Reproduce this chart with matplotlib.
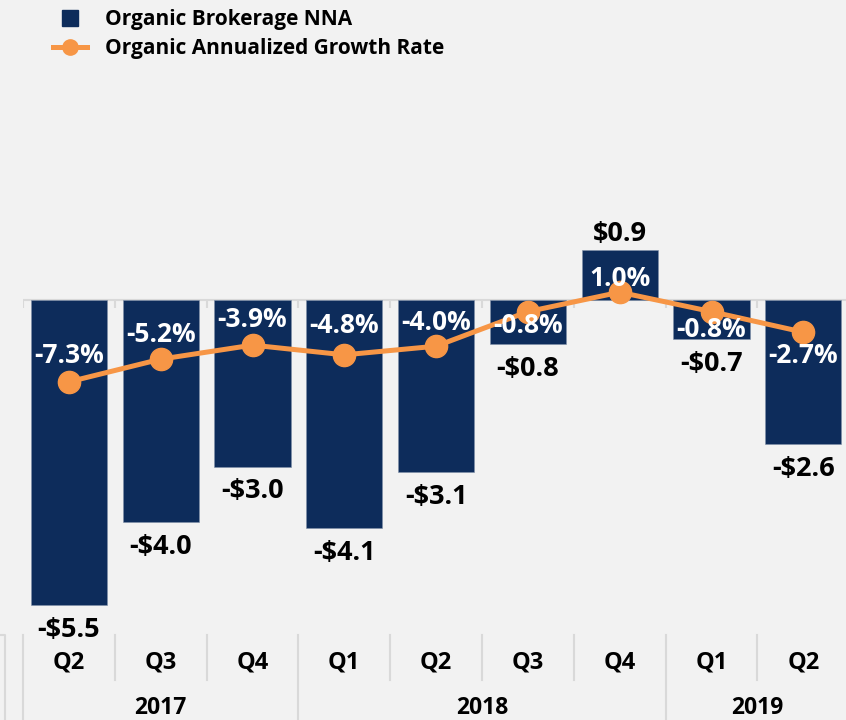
"""
Organic Brokerage NNA (bars) and organic annualized growth rate (line) by quarter.
"""

import matplotlib.pyplot as plt
from matplotlib.lines import Line2D
from matplotlib.transforms import offset_copy

# ----------------- Data -----------------
quarters = ['Q2', 'Q3', 'Q4', 'Q1', 'Q2', 'Q3', 'Q4', 'Q1', 'Q2']
years = ['2017', '2018', '2019']
year_sizes = [3, 4, 2]  # number of quarters shown per year
nna = [-5.5, -4.0, -3.0, -4.1, -3.1, -0.8, 0.9, -0.7, -2.6]          # $B
growth = [-7.3, -5.2, -3.9, -4.8, -4.0, -0.8, 1.0, -0.8, -2.7]       # %

# label placement of the % labels (pixels above the marker, negative = below)
pct_dy = [26, 25, 26, 29, 24, -14, 14, -18, -23]

# ----------------- Style -----------------
navy = '#0d2c5b'
orange = '#f79646'
bg = '#f2f2f2'
grid_gray = '#d9d9d9'

plt.rcParams['font.family'] = ['Open Sans', 'DejaVu Sans']
plt.rcParams['font.weight'] = 'bold'

fig = plt.figure(figsize=(8.46, 7.2), dpi=100, facecolor=bg)
W, H = 846, 720
# axes in pixel terms: left 23, top 100, bottom 630, 91.8 px per quarter
ax = fig.add_axes([23 / W, (H - 630) / H, 9 * 91.8 / W, 530 / H])
ax.set_facecolor('none')
ax.set_xlim(-0.5, 8.5)
ax.set_ylim(-330 / 55.5, 200 / 55.5)

x = list(range(len(quarters)))

# bars
ax.bar(x, nna, width=0.83, color=navy, edgecolor='#8090a8', linewidth=0.4, zorder=2)

# zero line with small tick marks at category boundaries
ax.axhline(0, color=grid_gray, lw=1.5, zorder=1)
bounds = [i - 0.5 for i in range(len(quarters) + 1)]
ax.vlines(bounds, -0.14, 0, color=grid_gray, lw=1.5, zorder=1)

# $ labels outside of the bars
for xi, v in zip(x, nna):
    if v < 0:
        dy, txt = -25, f'-${abs(v):.1f}'
    else:
        dy, txt = 16, f'${v:.1f}'
    tr = offset_copy(ax.transData, fig=fig, x=0, y=dy, units='dots')
    ax.text(xi, v, txt, transform=tr, ha='center', va='center',
            fontsize=19.5, fontweight='bold', color='black', zorder=5)

# line on secondary axis
ax2 = ax.twinx()
ax2.set_ylim(-(630 - 303) / 10.8, (303 - 100) / 10.8)
ax2.plot(x, growth, color=orange, lw=3.6, marker='o', markersize=16, zorder=3)
for xi, g, dy in zip(x, growth, pct_dy):
    tr = offset_copy(ax2.transData, fig=fig, x=0, y=dy, units='dots')
    ax2.text(xi, g, f'{g:.1f}%', transform=tr, ha='center', va='center',
             fontsize=19, fontweight='bold', color='white', zorder=6)

for a in (ax, ax2):
    for s in a.spines.values():
        s.set_visible(False)
    a.set_xticks([])
    a.set_yticks([])

# category axis: quarters and years
xt = ax.get_xaxis_transform()
for xi, q in zip(x, quarters):
    ax.text(xi, (630 - 663) / 530, q, transform=xt, ha='center', va='center',
            fontsize=17, fontweight='bold', clip_on=False)

year_starts = [0]
for n in year_sizes[:-1]:
    year_starts.append(year_starts[-1] + n)
long_bounds = [s - 0.5 for s in year_starts] + [len(quarters) - 0.5]
for b in bounds:
    top, bot = (630 - 635) / 530, (630 - 680) / 530
    if b in long_bounds:
        bot = (630 - 725) / 530
    ax.plot([b, b], [top, bot], transform=xt, color=grid_gray, lw=1.5, clip_on=False)
for yr, s, n in zip(years, year_starts, year_sizes):
    ax.text(s + (n - 1) / 2, (630 - 708) / 530, yr, transform=xt, ha='center', va='center',
            fontsize=16.5, fontweight='bold', clip_on=False)

# partial frame of the category table at the left edge
fig.add_artist(Line2D([0, 4.5 / W, 4.5 / W], [1 - 635 / H, 1 - 635 / H, 0],
                      color=grid_gray, lw=1.5))

# legend
handles = [Line2D([], [], ls='none', marker='s', markersize=11, color=navy),
           Line2D([], [], color=orange, lw=3.6, marker='o', markersize=11)]
fig.legend(handles, ['Organic Brokerage NNA', 'Organic Annualized Growth Rate'],
           loc='upper left', bbox_to_anchor=(53 / W, 1 - 9 / H), frameon=False,
           fontsize=15, handlelength=1.65, handletextpad=0.85, labelspacing=0.4,
           borderaxespad=0, borderpad=0)

fig.savefig('out.png', dpi=100, facecolor=bg)
